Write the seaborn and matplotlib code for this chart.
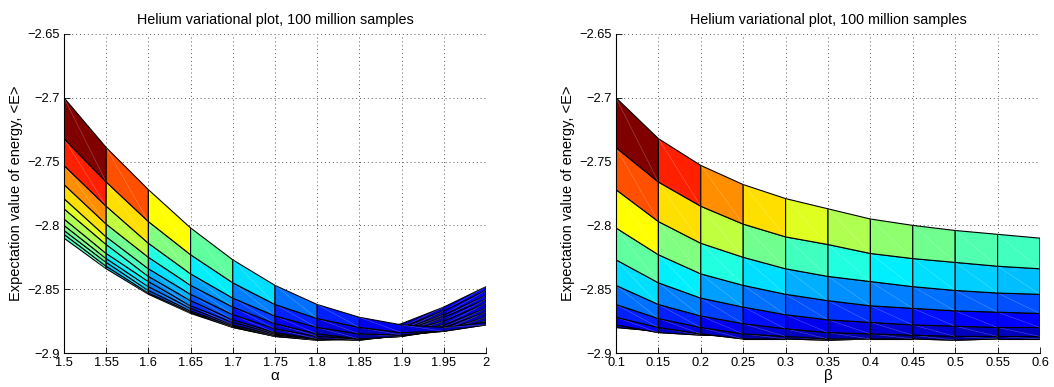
import numpy as np
import pandas as pd
import seaborn as sns
import matplotlib
matplotlib.use("Agg")
import matplotlib.pyplot as plt
from matplotlib.colors import Normalize, ListedColormap

# grid of variational parameters
alpha = [1.5, 1.55, 1.6, 1.65, 1.7, 1.75, 1.8, 1.85, 1.9, 1.95, 2.0]
beta = [0.1, 0.15, 0.2, 0.25, 0.3, 0.35, 0.4, 0.45, 0.5, 0.55, 0.6]

# <E>(alpha, beta): one list per alpha, values along beta
E_a150 = [-2.700, -2.732, -2.753, -2.768, -2.779, -2.787, -2.795, -2.800, -2.804, -2.807, -2.810]
E_a155 = [-2.739, -2.766, -2.785, -2.799, -2.809, -2.815, -2.822, -2.826, -2.829, -2.832, -2.834]
E_a160 = [-2.772, -2.797, -2.814, -2.825, -2.834, -2.840, -2.844, -2.848, -2.851, -2.853, -2.854]
E_a165 = [-2.802, -2.823, -2.838, -2.847, -2.854, -2.859, -2.863, -2.865, -2.867, -2.868, -2.869]
E_a170 = [-2.827, -2.845, -2.857, -2.864, -2.870, -2.874, -2.876, -2.878, -2.879, -2.880, -2.880]
E_a175 = [-2.847, -2.862, -2.871, -2.877, -2.881, -2.884, -2.885, -2.886, -2.887, -2.887, -2.887]
E_a180 = [-2.862, -2.873, -2.880, -2.885, -2.887, -2.889, -2.889, -2.889, -2.890, -2.889, -2.889]
E_a185 = [-2.872, -2.880, -2.885, -2.889, -2.889, -2.890, -2.889, -2.888, -2.889, -2.887, -2.886]
E_a190 = [-2.878, -2.884, -2.886, -2.887, -2.887, -2.886, -2.884, -2.883, -2.882, -2.880, -2.877]
E_a195 = [-2.880, -2.883, -2.883, -2.882, -2.880, -2.878, -2.875, -2.872, -2.870, -2.867, -2.864]
E_a200 = [-2.876, -2.878, -2.875, -2.872, -2.868, -2.865, -2.861, -2.858, -2.855, -2.851, -2.848]

y_ticks = [-2.9, -2.85, -2.8, -2.75, -2.7, -2.65]
title = "Helium variational plot, 100 million samples"
ylabel = "Expectation value of energy, <E>"

E = np.array([E_a150, E_a155, E_a160, E_a165, E_a170, E_a175,
              E_a180, E_a185, E_a190, E_a195, E_a200])
df = pd.DataFrame(E, index=alpha, columns=beta)

sns.set_theme(style="white")
plt.rcParams["font.family"] = ["Liberation Sans", "DejaVu Sans"]


def matlab_jet(m=64):
    n = int(np.ceil(m / 4))
    u = np.concatenate([np.arange(1, n + 1) / n, np.ones(n - 1), np.arange(n, 0, -1) / n])
    g = int(np.ceil(n / 2)) - (1 if m % 4 == 1 else 0) + np.arange(1, len(u) + 1)
    r = g + n
    b = g - n
    J = np.zeros((m, 3))
    for col, idx in ((0, r), (1, g), (2, b)):
        keep = (idx >= 1) & (idx <= m)
        J[idx[keep] - 1, col] = u[keep]
    return ListedColormap(J)


cmap = matlab_jet(64)
norm = Normalize(vmin=E.min(), vmax=E.max())

fig = plt.figure(figsize=(10.54, 3.87), dpi=100)
axL = fig.add_axes([64 / 1054, 1 - 353 / 387, 422 / 1054, 319 / 387])
axR = fig.add_axes([616 / 1054, 1 - 353 / 387, 424 / 1054, 319 / 387])


def draw_surface(ax, xs, Z):
    """Z rows = depth index (row 0 is nearest viewer), cols = x index."""
    z = 2.0
    nk, nm = Z.shape
    for k in range(nk - 2, -1, -1):
        for m in range(nm - 1):
            px = [xs[m], xs[m + 1], xs[m + 1], xs[m]]
            py = [Z[k, m], Z[k, m + 1], Z[k + 1, m + 1], Z[k + 1, m]]
            ax.fill(px, py, facecolor=cmap(norm(Z[k, m])), edgecolor="black",
                    linewidth=0.8, zorder=z, joinstyle="miter")
            ax.plot([xs[m], xs[m + 1]], [Z[k, m], Z[k + 1, m + 1]],
                    color="white", alpha=0.3, linewidth=0.4, zorder=z + 0.0005)
            z += 0.001


draw_surface(axL, alpha, df.values.T)
draw_surface(axR, beta, df.values)


def style(ax, xs, xlabel):
    ax.set_xlim(xs[0], xs[-1])
    ax.set_ylim(-2.9, -2.65)
    ax.set_xticks(xs)
    ax.set_xticklabels([f"{v:g}" for v in xs])
    ax.set_yticks(y_ticks)
    ax.set_yticklabels([f"{v:g}".replace("-", "\u2212") for v in y_ticks])
    ax.grid(True, linestyle=(0, (1, 3)), color="0.35", linewidth=0.7)
    ax.set_axisbelow(True)
    sns.despine(ax=ax)
    for s in ("left", "bottom"):
        ax.spines[s].set_color("black")
        ax.spines[s].set_linewidth(0.8)
        ax.spines[s].set_zorder(10)
    ax.tick_params(direction="in", length=4, width=0.6, labelsize=9.3,
                   colors="black", bottom=True, left=True, pad=3)
    ax.set_xlabel(xlabel, fontsize=11, labelpad=0, color="black")
    ax.set_ylabel(ylabel, fontsize=10.5, labelpad=3, color="black")
    ax.set_title(title, fontsize=10.4, pad=7, color="black")
    ax.set_facecolor("white")


style(axL, alpha, "\u03b1")
style(axR, beta, "\u03b2")

fig.savefig("out.png", dpi=100, facecolor="white")
